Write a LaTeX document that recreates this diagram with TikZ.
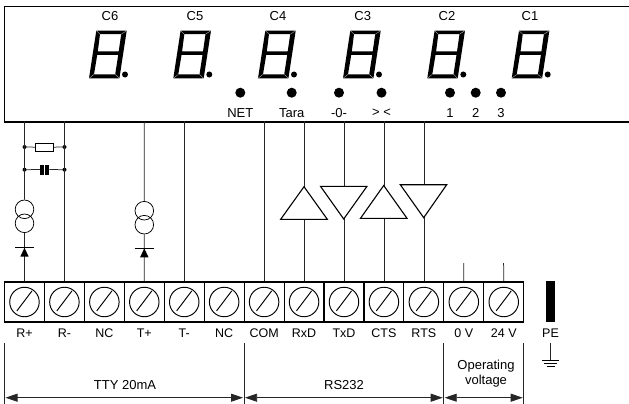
\documentclass[tikz,border=0pt]{standalone}
\usepackage{fontspec}
\setmainfont{Liberation Sans}
\usetikzlibrary{arrows.meta}
\tikzset{
  wire/.style={line width=0.75pt,draw=black!85},
  term/.style={draw,line width=1.1pt,minimum width=39.94pt,minimum height=40pt,inner sep=0pt},
  screw/.style={draw,circle,line width=0.95pt,minimum size=29.5pt,inner sep=0pt},
  lbl/.style={font=\fontsize{12.5}{14}\selectfont,inner sep=0pt,text=black},
  biglbl/.style={font=\fontsize{13}{15}\selectfont,inner sep=0pt,text=black},
  tri/.style={draw,line width=1.1pt,fill=white,line join=miter},
  led/.style={circle,fill=black,minimum size=10pt,inner sep=0pt},
  jdot/.style={circle,fill=black,minimum size=4pt,inner sep=0pt},
  dim/.style={line width=0.75pt,draw=black!85,{Triangle[length=12pt,width=8pt]}-{Triangle[length=12pt,width=8pt]}},
}
\begin{document}
\begin{tikzpicture}[x=1pt,y=-1pt]
\useasboundingbox (0,0) rectangle (629,404);
% display frame
\draw[line width=1.3pt] (630,6.5) -- (4.5,6.5) -- (4.5,122) -- (630,122);
% digits
\foreach \n/\dx/\lx/\lab in {0/89/110/C6,1/173.3/195/C5,2/258/278/C4,3/343/362.7/C3,4/427.3/447/C2,5/511.7/530/C1}{
  \begin{scope}[shift={(\dx,0)}]
    \fill[even odd rule] (7.3,30.7)--(37.7,30.7)--(30.4,78.3)--(0,78.3)--cycle
       (11,34.2)--(32.2,34.2)--(29.7,51.5)--(8.8,51.5)--cycle
       (8.2,55)--(29.2,55)--(26.2,74.4)--(5,74.4)--cycle;
    \draw[white,line width=0.2pt] (7.3,30.7)--(11,34.2) (37.7,30.7)--(32.2,34.2) (0,78.3)--(5,74.4) (30.4,78.3)--(26.2,74.4);
    \fill (36,74.5) circle (3);
  \end{scope}
  \node[biglbl] (c\n) at (\lx,15.7) {\lab};
}
% LEDs and labels
\foreach \nm/\x/\lab in {net/240.3/NET,tara/291.7/Tara,zero/339/-0-,cmp/381.5/> <,one/450/1,two/475.7/2,three/501/3}{
  \node[led] (led\nm) at (\x,92.7) {};
  \node[biglbl] (lab\nm) at (\x,113) {\lab};
}
% terminals
\foreach \i/\lab in {1/R+,2/R-,3/NC,4/T+,5/T-,6/NC,7/COM,8/RxD,9/TxD,10/CTS,11/RTS,12/0 V,13/24 V}{
  \node[term] (t\i) at ({4.5+39.94*(\i-0.5)},302) {};
  \node[screw] (s\i) at (t\i) {};
  \draw[line width=0.95pt] ([shift={(-7.6,8.9)}]t\i.center) -- ([shift={(7.6,-11.2)}]t\i.center);
  \node[lbl] (n\i) at ({4.5+39.94*(\i-0.5)},333.5) {\lab};
}
% wire top ends
\foreach \i in {1,2,4,5,7,8,9,10,11}{
  \path (t\i.north) ++(0,-160) coordinate (top\i);
}
% resistor and capacitor branch
\coordinate (ra) at (24.5,147);
\coordinate (rb) at (64.5,147);
\coordinate (ca) at (24.5,169.7);
\coordinate (cb) at (64.5,169.7);
\node[draw,line width=0.8pt,minimum width=18pt,minimum height=8pt,inner sep=0pt] (res) at (44.3,147.3) {};
\node[fill=black,minimum width=3.8pt,minimum height=10pt,inner sep=0pt] (capa) at (42,169.5) {};
\node[fill=black,minimum width=3.8pt,minimum height=10pt,inner sep=0pt] (capb) at (47.2,169.5) {};
\draw[wire] (ra) -- (res) -- (rb);
\draw[wire] (ca) -- (capa) (capb) -- (cb);
\foreach \p in {ra,rb,ca,cb} \node[jdot] at (\p) {};
% current sources
\node[draw,circle,line width=0.75pt,minimum size=18.6pt,inner sep=0pt] (ia) at (24.5,209.3) {};
\node[draw,circle,line width=0.75pt,minimum size=18.6pt,inner sep=0pt] (ib) at (24.5,223.3) {};
\node[draw,circle,line width=0.75pt,minimum size=18.6pt,inner sep=0pt] (ic) at (144.3,210.7) {};
\node[draw,circle,line width=0.75pt,minimum size=18.6pt,inner sep=0pt] (id) at (144.3,224.7) {};
\draw[wire] (top1) -- (ia.north);
\draw[wire] (ib.south) -- (t1.north);
\draw[wire] (top4) -- (ic.north);
\draw[wire] (id.south) -- (t4.north);
\draw[wire] (top2) -- (t2.north);
\draw[wire] (top5) -- (t5.north);
\draw[wire] (top7) -- (t7.north);
% diodes
\foreach \x/\y in {24.5/247.7,144.3/248.3}{
  \draw[line width=0.7pt] (\x-9.6,\y) -- (\x+9.6,\y);
  \fill (\x,\y) -- (\x+4.2,\y+9) -- (\x-4.2,\y+9) -- cycle;
}
% line drivers
\draw[wire] (top8) -- (t8.north);
\draw[wire] (top9) -- (t9.north);
\draw[wire] (top10) -- (t10.north);
\draw[wire] (top11) -- (t11.north);
\draw[tri] (304,186.7) -- (327.3,219.3) -- (280.7,219.3) -- cycle;
\draw[tri] (320.5,186.3) -- (367,186.3) -- (343.7,219) -- cycle;
\draw[tri] (383.7,185.5) -- (407,218.3) -- (360.5,218.3) -- cycle;
\draw[tri] (400.3,184.7) -- (446.7,184.7) -- (423.7,217.7) -- cycle;
% short stubs
\coordinate (st12) at (463.7,263);
\coordinate (st13) at (503.6,263);
\draw[wire] (st12) -- (t12.north);
\draw[wire] (st13) -- (t13.north);
% PE
\node[fill=black,minimum width=9pt,minimum height=41pt,inner sep=0pt] (pe) at (550.5,301.2) {};
\node[lbl] (pel) at (550.5,333.5) {PE};
\coordinate (gt) at (550.5,343);
\coordinate (gb) at (550.5,360);
\draw[wire] (gt) -- (gb);
\draw[line width=0.6pt] (542,360) -- (559,360) (544,363.4) -- (557,363.4) (546.5,366.6) -- (554.5,366.6);
% dimension lines
\coordinate (d1) at (4.5,343);
\coordinate (d2) at (244,343);
\coordinate (d3) at (443.7,343);
\coordinate (d4) at (523.7,343);
\coordinate (e1) at (4.5,404);
\coordinate (e2) at (244,404);
\coordinate (e3) at (443.7,404);
\coordinate (e4) at (523.7,404);
\foreach \a/\b in {d1/e1,d2/e2,d3/e3,d4/e4} \draw[wire] (\a) -- (\b);
\coordinate (a1) at (5.5,397.7);
\coordinate (a2) at (243,397.7);
\coordinate (a2b) at (245,397.7);
\coordinate (a3) at (442.7,397.7);
\coordinate (a3b) at (444.7,397.7);
\coordinate (a4) at (522.7,397.7);
\draw[dim] (a1) -- (a2);
\draw[dim] (a2b) -- (a3);
\draw[dim] (a3b) -- (a4);
\node[biglbl] (tty) at (125,385) {TTY 20mA};
\node[biglbl] (rs) at (344,385) {RS232};
\node[biglbl] (op1) at (486,365.7) {Operating};
\node[biglbl] (op2) at (486,380.7) {voltage};
\end{tikzpicture}
\end{document}
